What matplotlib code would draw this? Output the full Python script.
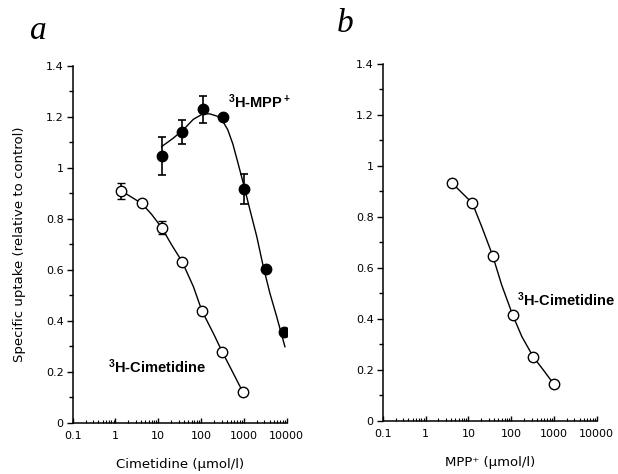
import numpy as np
import matplotlib
matplotlib.use("Agg")
import matplotlib.pyplot as plt
from matplotlib.ticker import FixedLocator, LogLocator, NullFormatter

plt.rcParams['font.family'] = ['DejaVu Sans']
plt.rcParams['mathtext.fontset'] = 'custom'
plt.rcParams['mathtext.bf'] = 'Liberation Sans:bold'
plt.rcParams['mathtext.rm'] = 'Liberation Sans:bold'

# panel a: 3H-MPP+ uptake (filled) vs cimetidine
mpp_x = [12, 36, 112, 330, 1000, 3200, 8800]
mpp_y = [1.048, 1.142, 1.231, 1.199, 0.918, 0.604, 0.356]
mpp_err = [0.074, 0.048, 0.053, 0, 0.058, 0, 0]
# fitted curve
mpp_fit_x = [12, 22, 38, 66, 112, 161, 240, 330, 420, 550, 700, 970, 1390, 2000, 2840, 4050, 5840, 9100]
mpp_fit_y = [1.084, 1.116, 1.149, 1.191, 1.213, 1.212, 1.203, 1.180, 1.150, 1.095, 1.030, 0.94, 0.835, 0.731, 0.613, 0.509, 0.417, 0.299]

# panel a: 3H-cimetidine uptake (open) vs cimetidine
cim_x = [1.38, 4.1, 12, 36, 105, 316, 955]
cim_y = [0.91, 0.861, 0.766, 0.633, 0.439, 0.277, 0.120]
cim_err = [0.032, 0, 0.025, 0, 0, 0, 0]
cim_fit_x = [1.38, 4.1, 7, 12, 20.6, 36, 66, 105, 193, 316, 565, 955]
cim_fit_y = [0.91, 0.861, 0.818, 0.766, 0.698, 0.633, 0.535, 0.439, 0.352, 0.277, 0.195, 0.120]

# panel b: 3H-cimetidine uptake vs MPP+
b_x = [4.2, 12.4, 37, 109, 330, 990]
b_y = [0.932, 0.854, 0.648, 0.414, 0.25, 0.144]
b_fit_x = [4.2, 12.4, 20.6, 37, 60, 109, 178, 330, 565, 990]
b_fit_y = [0.932, 0.854, 0.761, 0.648, 0.533, 0.414, 0.33, 0.25, 0.199, 0.144]

y_ticks = [0, 0.2, 0.4, 0.6, 0.8, 1.0, 1.2, 1.4]
y_labels = ['0', '0.2', '0.4', '0.6', '0.8', '1', '1.2', '1.4']
x_ticks = [0.1, 1, 10, 100, 1000, 10000]
x_labels = ['0.1', '1', '10', '100', '1000', '10000']

fig = plt.figure(figsize=(6.18, 4.74), dpi=100)
ax_a = fig.add_axes([0.1176, 0.1076, 0.3463, 0.7532])
ax_b = fig.add_axes([0.6193, 0.1125, 0.3463, 0.7525])

lab_font = ['Liberation Sans', 'DejaVu Sans']


def style(ax, xlabel):
    ax.set_xscale('log')
    ax.set_xlim(0.1, 10000)
    ax.set_ylim(0, 1.4)
    for s in ['top', 'right']:
        ax.spines[s].set_visible(False)
    for s in ['left', 'bottom']:
        ax.spines[s].set_linewidth(1.1)
    ax.set_yticks(y_ticks)
    ax.set_yticklabels(y_labels)
    ax.yaxis.set_minor_locator(FixedLocator(np.arange(0.1, 1.4, 0.2)))
    ax.set_xticks(x_ticks)
    ax.set_xticklabels(x_labels)
    ax.xaxis.set_minor_locator(LogLocator(base=10, subs=np.arange(2, 10), numticks=20))
    ax.xaxis.set_minor_formatter(NullFormatter())
    ax.tick_params(axis='y', which='major', direction='out', length=4.5, width=1, pad=2, labelsize=8)
    ax.tick_params(axis='y', which='minor', direction='out', length=3, width=1)
    ax.tick_params(axis='x', which='major', direction='in', length=3.5, width=1, pad=6, labelsize=8)
    ax.tick_params(axis='x', which='minor', direction='in', length=2.5, width=0.8)
    ax.set_xlabel(xlabel, fontsize=9.5, labelpad=12)


style(ax_a, 'Cimetidine (\u00b5mol/l)')
style(ax_b, 'MPP\u207a (\u00b5mol/l)')
ax_a.set_ylabel('Specific uptake (relative to control)', fontsize=9.5, labelpad=14)

ax_a.plot(mpp_fit_x, mpp_fit_y, color='black', lw=1)
ax_a.errorbar(mpp_x, mpp_y, yerr=mpp_err, fmt='o', color='black', ms=7.5,
              capsize=3, elinewidth=1.2, capthick=1.2, zorder=3)
ax_a.plot(cim_fit_x, cim_fit_y, color='black', lw=1)
ax_a.errorbar(cim_x, cim_y, yerr=cim_err, fmt='o', color='black', mfc='white',
              mec='black', mew=1, ms=7.5, capsize=3, elinewidth=1.2, capthick=1.2, zorder=3)

ax_b.plot(b_fit_x, b_fit_y, color='black', lw=1)
ax_b.plot(b_x, b_y, 'o', color='black', mfc='white', mew=1, ms=7.5, zorder=3)

ax_a.text(430, 1.26, r'$\mathbf{^3}$H-MPP$\mathbf{^+}$', fontsize=10.5, fontweight='bold', family=lab_font, va='center')
ax_a.text(0.67, 0.22, r'$\mathbf{^3}$H-Cimetidine', fontsize=10.5, fontweight='bold', family=lab_font, va='center')
ax_b.text(140, 0.474, r'$\mathbf{^3}$H-Cimetidine', fontsize=10.5, fontweight='bold', family=lab_font, va='center')

fig.text(0.048, 0.936, 'a', fontsize=24, style='italic', family=['Liberation Serif'], va='center')
fig.text(0.545, 0.95, 'b', fontsize=24, style='italic', family=['Liberation Serif'], va='center')

fig.savefig('out.png', dpi=100)
